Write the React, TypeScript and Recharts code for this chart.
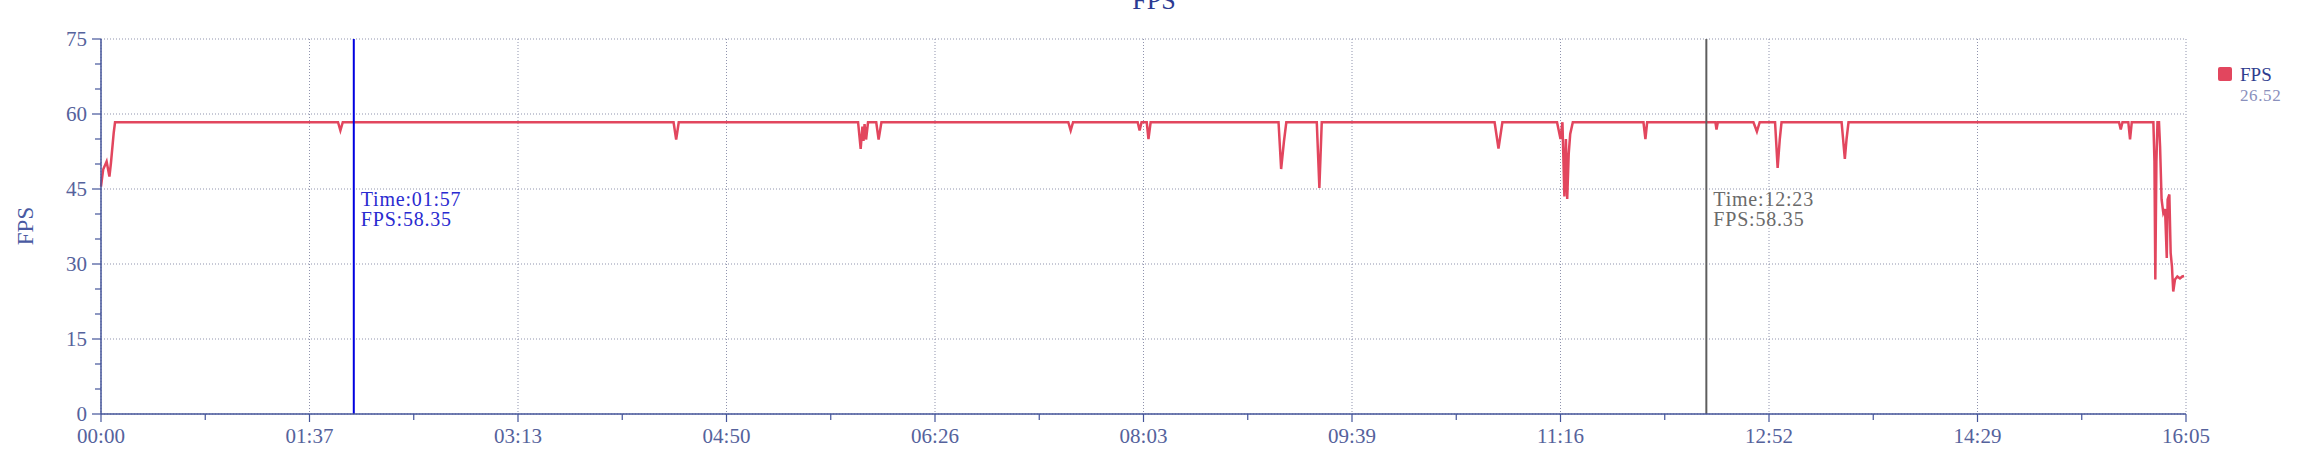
import React from "react";
import {
  LineChart,
  Line,
  XAxis,
  YAxis,
  CartesianGrid,
  ReferenceLine,
} from "recharts";

// seconds since start / fps
const times = [
  0, 1.0, 2.6, 3.9, 4.6, 5.9, 6.5,
  109.7, 110.8, 111.9,
  265.0, 266.2, 267.4,
  350.4, 351.6, 352.4, 352.9, 353.4, 354.1, 355.0,
  358.8, 359.9, 361.2,
  447.7, 448.8, 449.9,
  479.8, 480.7, 481.6,
  484.0, 484.8, 485.8,
  545.0, 546.2, 547.5, 548.6,
  562.7, 563.9, 565.0,
  645.0, 646.8, 648.6,
  673.9, 675.5, 676.4, 677.3, 678.0, 678.6, 679.3, 680.0, 681.2,
  713.9, 714.8, 715.6,
  747.2, 747.7, 748.3,
  764.8, 766.4, 767.7,
  774.8, 776.0, 777.0, 777.8,
  805.6, 807.1, 807.9, 808.8,
  934.0, 934.8, 935.6,
  938.3, 939.1, 939.9,
  949.9, 950.4, 950.8, 951.3, 951.8, 952.5, 953.0, 953.7, 954.5, 955.3,
  956.1, 956.5, 957.3, 957.9, 958.5, 959.1, 959.9, 961.0, 962.2, 963.3, 964.1,
];

const fps = [
  45.5, 48.9, 50.5, 47.5, 50.2, 56.3, 58.35,
  58.35, 56.7, 58.35,
  58.35, 54.9, 58.35,
  58.35, 53.0, 57.5, 54.6, 58.0, 54.9, 58.35,
  58.35, 54.9, 58.35,
  58.35, 56.7, 58.35,
  58.35, 56.7, 58.35,
  58.35, 55.0, 58.35,
  58.35, 49.0, 54.5, 58.35,
  58.35, 45.2, 58.35,
  58.35, 53.1, 58.35,
  58.35, 55.0, 58.35, 43.5, 55.0, 43.0, 52.0, 56.0, 58.35,
  58.35, 55.0, 58.35,
  58.35, 56.9, 58.35,
  58.35, 56.5, 58.35,
  58.35, 49.2, 55.0, 58.35,
  58.35, 51.0, 55.0, 58.35,
  58.35, 56.9, 58.35,
  58.35, 54.9, 58.35,
  58.35, 50.5, 26.9, 50.5, 58.35, 58.35, 53.5, 42.9, 40.2, 41.0,
  31.2, 42.9, 43.9, 32.2, 29.5, 24.5, 26.9, 27.5, 27.1, 27.5, 27.6,
];

const xMajorTicks = [0, 96.5, 193, 289.5, 386, 482.5, 579, 675.5, 772, 868.5, 965];
const xTickLabels = [
  "00:00", "01:37", "03:13", "04:50", "06:26", "08:03",
  "09:39", "11:16", "12:52", "14:29", "16:05",
];
const xMinorTicks = [48.25, 144.75, 241.25, 337.75, 434.25, 530.75, 627.25, 723.75, 820.25, 916.75];

const yMajorTicks = [0, 15, 30, 45, 60, 75];
const yMinorTicks = [5, 10, 20, 25, 35, 40, 50, 55, 65, 70];

const cursorTimes = [117, 743];
const cursorLabels = ["01:57", "12:23"];
const cursorFps = [58.35, 58.35];

const seriesName = "FPS";
const legendValue = "26.52";

const data = times.map((t, i) => ({ t, fps: fps[i] }));

const FONT = '"Liberation Serif", "DejaVu Serif", serif';
const LINE = "#e2465e";
const AXIS = "#44549a";
const TICK_TEXT = "#55629c";
const cursorColors = ["#0000e0", "#5e5e5e"];
const cursorTextColors = ["#2a2ad0", "#6a6a6a"];

const XTick = (props: any) => {
  const { x, y, payload } = props;
  const axisY = y - 14;
  const i = xMajorTicks.indexOf(payload.value);
  if (i < 0) {
    return <line x1={x} x2={x} y1={axisY} y2={axisY + 6} stroke={AXIS} strokeWidth={1.2} />;
  }
  return (
    <g>
      <line x1={x} x2={x} y1={axisY} y2={axisY + 8} stroke={AXIS} strokeWidth={1.2} />
      <text x={x} y={axisY + 28.5} textAnchor="middle" fontFamily={FONT} fontSize={21} fill={TICK_TEXT}>
        {xTickLabels[i]}
      </text>
    </g>
  );
};

const YTick = (props: any) => {
  const { x, y, payload } = props;
  const axisX = x + 14;
  const major = yMajorTicks.includes(payload.value);
  if (!major) {
    return <line x1={axisX - 6} x2={axisX} y1={y} y2={y} stroke={AXIS} strokeWidth={1.2} />;
  }
  return (
    <g>
      <line x1={axisX - 9} x2={axisX} y1={y} y2={y} stroke={AXIS} strokeWidth={1.2} />
      <text x={x} y={y} dy="0.34em" textAnchor="end" fontFamily={FONT} fontSize={21} fill={TICK_TEXT}>
        {payload.value}
      </text>
    </g>
  );
};

const cursorLabel = (i: number) => (props: any) => {
  const vb = props.viewBox || {};
  const lx = (vb.x ?? 0) + 7;
  const top = vb.y ?? 0;
  return (
    <g fontFamily={FONT} fontSize={20} fill={cursorTextColors[i]} letterSpacing={0.8}>
      <text x={lx} y={top + 167}>{`Time:${cursorLabels[i]}`}</text>
      <text x={lx} y={top + 187}>{`${seriesName}:${cursorFps[i].toFixed(2)}`}</text>
    </g>
  );
};

export default function App() {
  return (
    <div style={{ position: "absolute", left: 0, top: 0, width: 2308, height: 461, background: "#fff" }}>
      <LineChart
        width={2308}
        height={461}
        data={data}
        margin={{ top: 39, right: 122, bottom: 17, left: 0 }}
      >
        <CartesianGrid
          stroke="#8f93ad"
          strokeDasharray="1 2"
          verticalValues={xMajorTicks}
          horizontalValues={yMajorTicks}
        />
        <XAxis
          dataKey="t"
          type="number"
          domain={[0, 965]}
          ticks={[...xMajorTicks, ...xMinorTicks].sort((a, b) => a - b)}
          interval={0}
          height={30}
          tickLine={false}
          tickSize={8}
          tickMargin={6}
          axisLine={{ stroke: AXIS, strokeWidth: 1.5 }}
          tick={<XTick />}
        />
        <YAxis
          type="number"
          domain={[0, 75]}
          ticks={[...yMajorTicks, ...yMinorTicks].sort((a, b) => a - b)}
          interval={0}
          width={101}
          tickLine={false}
          tickSize={9}
          tickMargin={5}
          axisLine={{ stroke: AXIS, strokeWidth: 1.5 }}
          tick={<YTick />}
        />
        <Line
          type="linear"
          dataKey="fps"
          name={seriesName}
          stroke={LINE}
          strokeWidth={2.5}
          dot={false}
          activeDot={false}
          isAnimationActive={false}
        />
        {cursorTimes.map((t, i) => (
          <ReferenceLine
            key={t}
            x={t}
            stroke={cursorColors[i]}
            strokeWidth={2}
            label={cursorLabel(i)}
          />
        ))}
      </LineChart>

      <svg
        width={2308}
        height={461}
        style={{ position: "absolute", left: 0, top: 0, pointerEvents: "none" }}
      >
        <text x={1154} y={9} textAnchor="middle" fontFamily={FONT} fontSize={26} fill="#2b3a92">
          {seriesName}
        </text>
        <text
          x={0}
          y={0}
          transform="translate(33 226) rotate(-90)"
          textAnchor="middle"
          fontFamily={FONT}
          fontSize={23}
          fill="#4a5aa2"
        >
          {seriesName}
        </text>
        <rect x={2218} y={67} width={14} height={14} rx={2} fill={LINE} />
        <text x={2240} y={81} fontFamily={FONT} fontSize={19} fill="#2f3d8f">
          {seriesName}
        </text>
        <text x={2240} y={101} fontFamily={FONT} fontSize={17} fill="#8a90bc" letterSpacing={0.6}>
          {legendValue}
        </text>
      </svg>
    </div>
  );
}
